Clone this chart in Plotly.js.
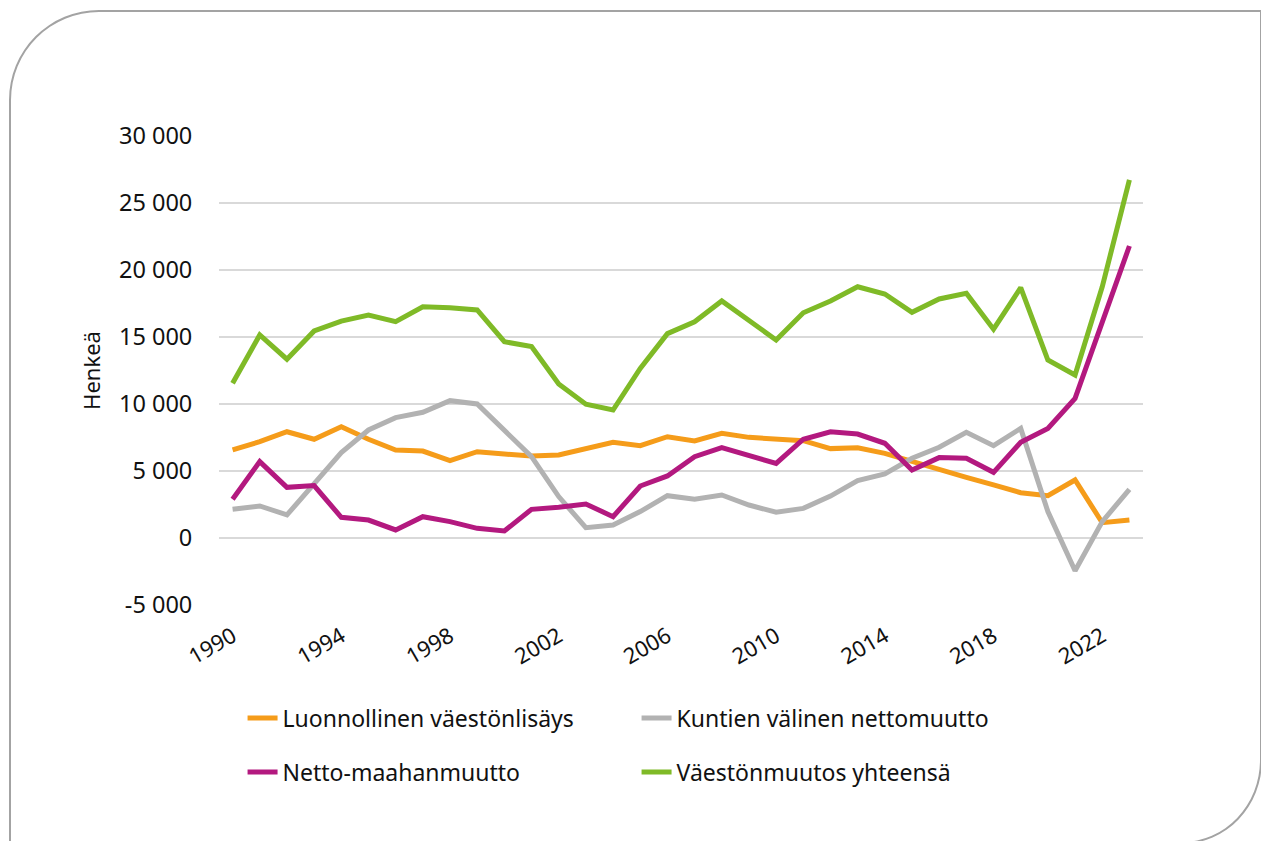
<!DOCTYPE html>
<html>
<head>
<meta charset="utf-8">
<script src="https://cdn.plot.ly/plotly-3.0.1.min.js"></script>
<style>
  html, body { margin: 0; padding: 0; background: #ffffff; overflow: hidden; }
  #frame {
    position: absolute; left: 9px; top: 10px; width: 1253px; height: 834px;
    box-sizing: border-box; border: 2px solid #a3a3a3;
    border-top-left-radius: 90px; border-bottom-right-radius: 80px 84px;
  }
  #chart { position: absolute; left: 0; top: 0; width: 1261px; height: 841px; }
</style>
</head>
<body>
<div id="frame"></div>
<div id="chart"></div>
<script>
const years = [1990,1991,1992,1993,1994,1995,1996,1997,1998,1999,2000,2001,2002,2003,2004,2005,2006,2007,2008,2009,2010,2011,2012,2013,2014,2015,2016,2017,2018,2019,2020,2021,2022,2023];

const seriesNames = ['Luonnollinen väestönlisäys', 'Kuntien välinen nettomuutto', 'Netto-maahanmuutto', 'Väestönmuutos yhteensä'];

const luonnollinen = [6570, 7190, 7930, 7370, 8300, 7370, 6570, 6490, 5770, 6440, 6270, 6120, 6190, 6690, 7140, 6890, 7560, 7240, 7810, 7510, 7390, 7260, 6670, 6740, 6320, 5700, 5080, 4530, 3960, 3380, 3160, 4330, 1140, 1340];
const kuntien = [2140, 2390, 1720, 4080, 6370, 8060, 8980, 9380, 10250, 10000, 8060, 6070, 3090, 770, 970, 1970, 3160, 2890, 3210, 2460, 1920, 2210, 3130, 4280, 4780, 5950, 6770, 7890, 6890, 8180, 1970, -2440, 1220, 3630];
const maahanmuutto = [2890, 5700, 3780, 3910, 1540, 1340, 600, 1590, 1220, 720, 520, 2140, 2290, 2540, 1590, 3880, 4630, 6070, 6740, 6190, 5570, 7370, 7930, 7760, 7070, 5080, 6000, 5950, 4900, 7140, 8180, 10420, 16200, 21790];
const yhteensa = [11550, 15150, 13340, 15450, 16190, 16640, 16150, 17260, 17190, 17020, 14650, 14280, 11490, 9980, 9550, 12660, 15250, 16140, 17690, 16190, 14780, 16810, 17690, 18750, 18210, 16840, 17840, 18260, 15580, 18680, 13280, 12160, 18750, 26720];

const xTickVals = [1990, 1994, 1998, 2002, 2006, 2010, 2014, 2018, 2022];
const xTickText = ['1990', '1994', '1998', '2002', '2006', '2010', '2014', '2018', '2022'];
const yTickVals = [-5000, 0, 5000, 10000, 15000, 20000, 25000, 30000];
const yTickText = ['-5 000', '0', '5 000', '10 000', '15 000', '20 000', '25 000', '30 000'];

const colors = ['#F59C1A', '#B2B2B2', '#B3197F', '#7FBA27'];
const FONT = '"Noto Sans", "Open Sans", sans-serif';

const allSeries = [luonnollinen, kuntien, maahanmuutto, yhteensa];
const legendIds = ['legend', 'legend', 'legend2', 'legend2'];

const traces = allSeries.map((vals, i) => ({
  type: 'scatter',
  mode: 'lines',
  x: years,
  y: vals,
  name: seriesNames[i],
  legend: legendIds[i],
  line: { color: colors[i], width: 5 },
  hoverinfo: 'x+y+name'
}));

const legendCommon = {
  orientation: 'h',
  xanchor: 'left',
  yanchor: 'middle',
  bgcolor: 'rgba(0,0,0,0)',
  font: { family: FONT, size: 23, color: '#111111' },
  entrywidth: 349,
  entrywidthmode: 'pixels',
  traceorder: 'normal'
};

const layout = {
  width: 1261,
  height: 841,
  paper_bgcolor: 'rgba(0,0,0,0)',
  plot_bgcolor: 'rgba(0,0,0,0)',
  margin: { l: 219, r: 118, t: 136, b: 236 },
  font: { family: FONT, size: 22, color: '#111111' },
  showlegend: true,
  legend: Object.assign({}, legendCommon, { x: 0.0255, y: -0.241 }),
  legend2: Object.assign({}, legendCommon, { x: 0.0255, y: -0.356 }),
  xaxis: {
    type: 'linear',
    range: [1989.5, 2023.5],
    tickvals: xTickVals,
    ticktext: xTickText,
    tickangle: -30,
    ticks: 'outside',
    ticklen: 9,
    tickcolor: 'rgba(0,0,0,0)',
    showgrid: false,
    zeroline: false,
    showline: false,
    tickfont: { family: FONT, size: 22, color: '#111111' },
    fixedrange: true
  },
  yaxis: {
    range: [-5000, 30000],
    tickvals: yTickVals,
    ticktext: yTickText,
    ticks: 'outside',
    ticklen: 21,
    tickcolor: 'rgba(0,0,0,0)',
    showgrid: true,
    gridcolor: '#d9d9d9',
    gridwidth: 1.5,
    zeroline: false,
    showline: false,
    tickfont: { family: FONT, size: 23.5, color: '#111111' },
    title: { text: 'Henkeä', font: { family: FONT, size: 22, color: '#111111' }, standoff: 12 },
    fixedrange: true
  }
};

Plotly.newPlot('chart', traces, layout, { displayModeBar: false, staticPlot: false });
</script>
</body>
</html>
